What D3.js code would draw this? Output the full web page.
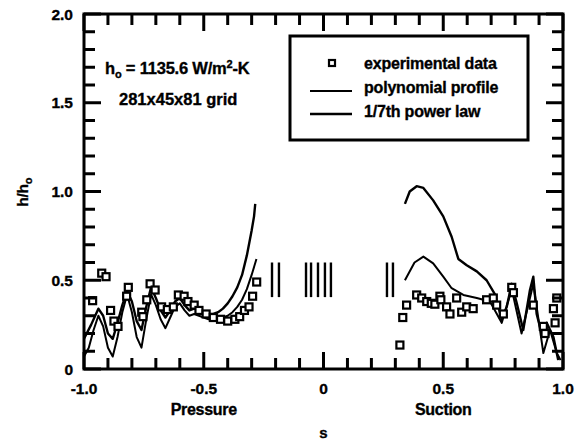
<!DOCTYPE html>
<html>
<head>
<meta charset="utf-8">
<script src="https://cdn.jsdelivr.net/npm/d3@7"></script>
<style>
  body { margin: 0; background: #fff; }
  text { font-family: Arial, "Liberation Sans", sans-serif; font-weight: bold; fill: #000; stroke: #000; stroke-width: 0.35px; }
</style>
</head>
<body>
<svg id="svg"></svg>
<script>
// experimental data (s, h/ho)
const expS = [-0.964, -0.926, -0.908, -0.889, -0.875, -0.858, -0.822, -0.815, -0.759, -0.754, -0.738, -0.724, -0.703,
  -0.676, -0.652, -0.627, -0.606, -0.582, -0.566, -0.54, -0.52, -0.49, -0.46, -0.43, -0.40, -0.37, -0.35, -0.33, -0.311, -0.296, -0.279,
  0.319, 0.331, 0.347, 0.389, 0.41, 0.431, 0.45, 0.465, 0.486, 0.49, 0.514, 0.528, 0.556, 0.577, 0.598, 0.625,
  0.681, 0.709, 0.723, 0.751, 0.786, 0.793, 0.876, 0.918, 0.925, 0.96, 0.967, 0.974]
const expH = [0.385, 0.54, 0.52, 0.33, 0.27, 0.24, 0.41, 0.46, 0.32, 0.295, 0.39, 0.48, 0.445,
  0.35, 0.335, 0.35, 0.417, 0.41, 0.38, 0.36, 0.33, 0.31, 0.29, 0.28, 0.27, 0.28, 0.295, 0.33, 0.35, 0.41, 0.49,
  0.135, 0.29, 0.36, 0.417, 0.40, 0.38, 0.37, 0.365, 0.41, 0.39, 0.35, 0.31, 0.40, 0.32, 0.35, 0.34,
  0.39, 0.40, 0.36, 0.31, 0.46, 0.43, 0.36, 0.24, 0.20, 0.34, 0.26, 0.40]

// 1/7th power law, pressure side then suction side
const powPS = [-1.0, -0.97, -0.94, -0.92, -0.90, -0.88, -0.86, -0.84, -0.82, -0.80, -0.78, -0.76, -0.74, -0.72, -0.70,
  -0.68, -0.66, -0.64, -0.62, -0.60, -0.58, -0.56, -0.54, -0.52, -0.50, -0.48, -0.46, -0.44, -0.42, -0.40,
  -0.38, -0.36, -0.34, -0.32, -0.30, -0.29, -0.285]
const powPH = [0.17, 0.25, 0.34, 0.30, 0.20, 0.17, 0.26, 0.36, 0.44, 0.38, 0.27, 0.22, 0.35, 0.46, 0.40,
  0.33, 0.29, 0.33, 0.38, 0.40, 0.36, 0.33, 0.34, 0.33, 0.32, 0.31, 0.31, 0.32, 0.34, 0.37,
  0.41, 0.46, 0.53, 0.64, 0.78, 0.86, 0.93]
const powSS = [0.34, 0.36, 0.389, 0.417, 0.458, 0.50, 0.535, 0.563, 0.598, 0.64, 0.681, 0.716, 0.744, 0.765, 0.786,
  0.807, 0.834, 0.862, 0.876, 0.89, 0.911, 0.932, 0.96, 0.98]
const powSH = [0.93, 1.0, 1.03, 1.02, 0.95, 0.86, 0.745, 0.62, 0.585, 0.55, 0.50, 0.42, 0.28, 0.35, 0.48,
  0.37, 0.22, 0.445, 0.52, 0.31, 0.20, 0.26, 0.18, 0.05]

// polynomial profile
const polPS = [-1.0, -0.98, -0.96, -0.94, -0.92, -0.90, -0.88, -0.86, -0.84, -0.82, -0.80, -0.78, -0.76, -0.74, -0.72,
  -0.70, -0.68, -0.66, -0.64, -0.62, -0.60, -0.58, -0.56, -0.54, -0.52, -0.50, -0.48, -0.46, -0.44, -0.42,
  -0.40, -0.38, -0.36, -0.34, -0.32, -0.30, -0.28]
const polPH = [0.07, 0.12, 0.22, 0.30, 0.24, 0.12, 0.07, 0.18, 0.32, 0.42, 0.32, 0.18, 0.12, 0.28, 0.42,
  0.36, 0.28, 0.23, 0.29, 0.35, 0.37, 0.33, 0.30, 0.31, 0.30, 0.29, 0.28, 0.28, 0.28, 0.29,
  0.30, 0.32, 0.35, 0.39, 0.45, 0.53, 0.62]
const polSS = [0.34, 0.38, 0.417, 0.458, 0.50, 0.535, 0.584, 0.64, 0.695, 0.744, 0.786, 0.827, 0.876, 0.904, 0.918,
  0.946, 0.974, 0.99]
const polSH = [0.50, 0.60, 0.633, 0.595, 0.52, 0.455, 0.417, 0.40, 0.38, 0.26, 0.45, 0.20, 0.48, 0.22, 0.09,
  0.22, 0.09, 0.05]

// short vertical markers in the middle
const markS = [-0.215, -0.186, -0.073, -0.052, -0.023, 0.006, 0.031, 0.265, 0.29]
const markLo = 0.405
const markHi = 0.60

const xTicks = [-1.0, -0.5, 0, 0.5, 1.0]
const xTickLabels = ['-1.0', '-0.5', '0', '0.5', '1.0']
const yTicks = [0, 0.5, 1.0, 1.5, 2.0]
const yTickLabels = ['0', '0.5', '1.0', '1.5', '2.0']
const xMinor = [-0.9, -0.8, -0.7, -0.6, -0.4, -0.3, -0.2, -0.1, 0.1, 0.2, 0.3, 0.4, 0.6, 0.7, 0.8, 0.9]
const yMinor = [0.1, 0.2, 0.3, 0.4, 0.6, 0.7, 0.8, 0.9, 1.1, 1.2, 1.3, 1.4, 1.6, 1.7, 1.8, 1.9]

const L = 84, R = 563, T = 14, B = 369

const svg = d3.select('#svg').attr('width', 581).attr('height', 442)

const x = d3.scaleLinear().domain([-1, 1]).range([L, R])
const y = d3.scaleLinear().domain([0, 2]).range([B, T])

svg.append('g').selectAll('text').data(xTicks).enter().append('text')
  .attr('x', d => x(d)).attr('y', 394).attr('text-anchor', 'middle')
  .attr('font-size', 15.5)
  .text((d, i) => xTickLabels[i])
svg.append('g').selectAll('text').data(yTicks).enter().append('text')
  .attr('x', 73).attr('y', d => y(d) + 5.5).attr('text-anchor', 'end')
  .attr('font-size', 15.5)
  .text((d, i) => yTickLabels[i])

// curves
const line = d3.line().x(d => x(d[0])).y(d => y(d[1]))
const zip = (a, b) => a.map((v, i) => [v, b[i]])

const curves = [
  { d: zip(powPS, powPH), sw: 2.4 },
  { d: zip(powSS, powSH), sw: 2.4 },
  { d: zip(polPS, polPH), sw: 2 },
  { d: zip(polSS, polSH), sw: 2 }
]
svg.selectAll('path.curve').data(curves).enter().append('path')
  .attr('class', 'curve')
  .attr('d', c => line(c.d))
  .attr('fill', 'none')
  .attr('stroke', '#000')
  .attr('stroke-width', c => c.sw)
  .attr('stroke-linejoin', 'round')

// experimental squares
svg.selectAll('rect.exp').data(zip(expS, expH)).enter().append('rect')
  .attr('class', 'exp')
  .attr('x', d => x(d[0]) - 3.5).attr('y', d => y(d[1]) - 3.5)
  .attr('width', 7).attr('height', 7)
  .attr('fill', '#fff').attr('stroke', '#000').attr('stroke-width', 2.2)

// middle markers
svg.selectAll('line.mark').data(markS).enter().append('line')
  .attr('class', 'mark')
  .attr('x1', d => x(d)).attr('x2', d => x(d))
  .attr('y1', y(markLo)).attr('y2', y(markHi))
  .attr('stroke', '#000').attr('stroke-width', 2.4)

// legend
const lg = svg.append('g')
lg.append('rect').attr('x', 290).attr('y', 36).attr('width', 238).attr('height', 104)
  .attr('fill', '#fff').attr('stroke', '#000').attr('stroke-width', 3)
lg.append('rect').attr('x', 329).attr('y', 60).attr('width', 6).attr('height', 6)
  .attr('fill', '#fff').attr('stroke', '#000').attr('stroke-width', 2.2)
lg.append('line').attr('x1', 310).attr('x2', 352).attr('y1', 91).attr('y2', 91)
  .attr('stroke', '#000').attr('stroke-width', 2)
lg.append('line').attr('x1', 310).attr('x2', 352).attr('y1', 114).attr('y2', 114)
  .attr('stroke', '#000').attr('stroke-width', 2.4)
const legText = ['experimental data', 'polynomial profile', '1/7th power law']
lg.selectAll('text').data(legText).enter().append('text')
  .attr('x', 364).attr('y', (d, i) => 69 + i * 24)
  .attr('font-size', 16).attr('letter-spacing', -0.2)
  .text(d => d)

// annotation
const an = svg.append('text').attr('x', 105).attr('y', 74).attr('font-size', 16.5).attr('letter-spacing', -0.2)
an.append('tspan').text('h')
an.append('tspan').attr('font-size', 11).attr('dy', 4).text('o')
an.append('tspan').attr('dy', -4).text(' = 1135.6 W/m')
an.append('tspan').attr('font-size', 11).attr('dy', -6).text('2')
an.append('tspan').attr('dy', 6).text('-K')
svg.append('text').attr('x', 119).attr('y', 105).attr('font-size', 16.5).attr('letter-spacing', 0)
  .text('281x45x81 grid')

// axis titles
svg.append('text').attr('x', x(-0.5)).attr('y', 415).attr('text-anchor', 'middle')
  .attr('font-size', 16).attr('letter-spacing', -0.3).text('Pressure')
svg.append('text').attr('x', x(0.5)).attr('y', 415).attr('text-anchor', 'middle')
  .attr('font-size', 16).attr('letter-spacing', -0.3).text('Suction')
svg.append('text').attr('x', x(0)).attr('y', 438).attr('text-anchor', 'middle')
  .attr('font-size', 15).text('s')
const yl = svg.append('text').attr('transform', 'translate(28,192) rotate(-90)')
  .attr('text-anchor', 'middle').attr('font-size', 15)
yl.append('tspan').text('h/h')
yl.append('tspan').attr('font-size', 11).attr('dy', 4).text('o')

// inward ticks on all four sides (drawn last, on top)
const tw = 3
const tk = svg.append('g')
const tickSets = [[xMinor, 11], [xTicks, 17]]
tickSets.forEach(([vals, len]) => {
  tk.selectAll(null).data(vals).enter().append('line')
    .attr('x1', d => x(d)).attr('x2', d => x(d))
    .attr('y1', B).attr('y2', B - len)
    .attr('stroke', '#000').attr('stroke-width', tw)
  tk.selectAll(null).data(vals).enter().append('line')
    .attr('x1', d => x(d)).attr('x2', d => x(d))
    .attr('y1', T).attr('y2', T + len)
    .attr('stroke', '#000').attr('stroke-width', tw)
})
const tickSetsY = [[yMinor, 11], [yTicks, 17]]
tickSetsY.forEach(([vals, len]) => {
  tk.selectAll(null).data(vals).enter().append('line')
    .attr('y1', d => y(d)).attr('y2', d => y(d))
    .attr('x1', L).attr('x2', L + len)
    .attr('stroke', '#000').attr('stroke-width', tw)
  tk.selectAll(null).data(vals).enter().append('line')
    .attr('y1', d => y(d)).attr('y2', d => y(d))
    .attr('x1', R).attr('x2', R - len)
    .attr('stroke', '#000').attr('stroke-width', tw)
})

svg.append('rect')
  .attr('x', L).attr('y', T).attr('width', R - L).attr('height', B - T)
  .attr('fill', 'none').attr('stroke', '#000').attr('stroke-width', 3)
</script>
</body>
</html>
